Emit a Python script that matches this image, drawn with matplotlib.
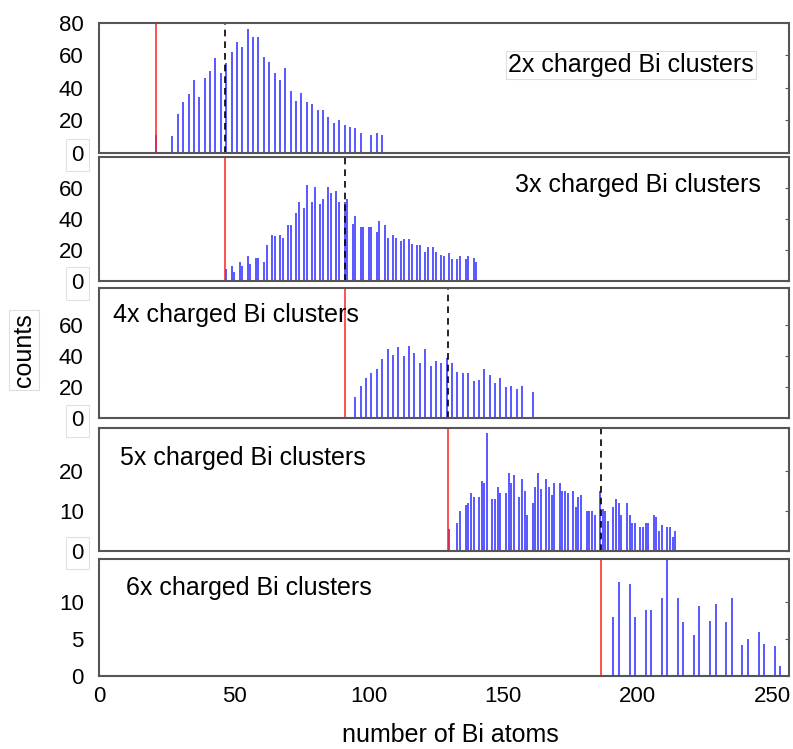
import matplotlib
matplotlib.use("Agg")
import matplotlib.pyplot as plt

plt.rcParams['font.family'] = ['Liberation Sans', 'DejaVu Sans']

# --- data: cluster size n and counts for each charge state ---
n2 = [21, 27, 29, 31, 33, 35, 37, 39, 41, 43, 45, 47, 49, 51, 53, 55, 57, 59, 61, 63,
      65, 67, 69, 71, 73, 75, 77, 79, 81, 83, 85, 87, 89, 91, 93, 95, 97, 101, 103, 105]
c2 = [11, 10, 24, 31, 36, 45, 34, 46, 50, 58, 49, 55, 62, 68, 65, 76, 71, 71, 59, 56,
      49, 45, 52, 38, 32, 37, 31, 30, 26, 26, 22, 18, 20, 17, 16, 15, 12, 11, 12, 11]

n3 = [47, 49, 50, 52, 53, 55, 56, 58, 59, 61, 62, 64, 65, 67, 68, 70, 71, 73, 74, 76,
      77, 79, 80, 82, 83, 85, 86, 88, 89, 91, 92, 94, 95, 97, 98, 100, 101, 103, 104, 106,
      107, 109, 110, 112, 113, 115, 116, 118, 119, 121, 122, 124, 125, 127, 128, 130, 131,
      133, 134, 136, 137, 139, 140]
c3 = [8, 10, 6, 12, 10, 16, 11, 15, 15, 12, 23, 30, 29, 30, 28, 36, 36, 44, 51, 47,
      62, 51, 61, 50, 53, 61, 57, 58, 51, 51, 53, 37, 42, 35, 35, 35, 35, 32, 39, 36,
      28, 30, 28, 26, 27, 27, 24, 23, 23, 19, 22, 22, 19, 17, 16, 18, 14,
      14, 16, 14, 16, 15, 12]

n4 = [95, 97, 99, 101, 103, 105, 107, 109, 111, 113, 115, 117, 119, 121, 123, 125, 127,
      129, 131, 133, 135, 137, 139, 141, 143, 145, 147, 149, 151, 153, 155, 157, 161]
c4 = [14, 21, 26, 29, 32, 38, 45, 41, 46, 40, 47, 42, 36, 45, 34, 37, 36,
      39, 36, 30, 29, 29, 24, 25, 32, 28, 23, 26, 20, 21, 19, 21, 17]

n5 = [130, 133, 134, 136, 137, 138, 139, 141, 142, 143, 144, 146, 147, 148, 149,
      151, 152, 153, 154, 156, 157, 158, 159, 161, 162, 163, 164, 166, 167, 168, 169,
      171, 172, 173, 174, 176, 177, 178, 179, 181, 182, 183, 184, 186, 187, 188, 189,
      191, 192, 193, 194, 196, 197, 198, 199, 201, 202, 203, 204, 206, 207, 208, 209,
      211, 212, 213, 214]
c5 = [5.5, 7, 10, 11.5, 12, 14.5, 13.5, 13.5, 17.5, 17, 29.5, 13, 13, 16, 14.5,
      14.5, 19.5, 17, 19, 13.5, 18, 15, 9, 12, 16, 19.5, 15.5, 18, 16, 14, 17,
      17, 15, 15, 14.5, 15, 11, 13.5, 14, 10, 10, 10, 9, 15, 10.5, 10, 7.5,
      11, 13, 12, 9, 12, 9, 7, 7, 6, 6, 7, 7, 9, 8.5, 5, 6.5,
      6, 6, 3.5, 5]

n6 = [191, 193, 197, 199, 203, 205, 209, 211, 215, 217, 221, 223, 227, 229, 233, 235,
      239, 241, 245, 247, 251, 253]
c6 = [8, 12.7, 12.5, 8, 9, 9, 10.5, 16, 10.5, 7.3, 5.5, 9.5, 7.4, 9.7, 7.3, 10.5,
      4.2, 5, 6, 4.4, 4.1, 1.4]

# red line: smallest stable size, dashed: limit of the next charge state
red_lines = [21, 46.5, 91, 129.5, 186.5]
dash_lines = [46.5, 91, 129.5, 186.5, None]

labels = ["2x charged Bi clusters", "3x charged Bi clusters", "4x charged Bi clusters",
          "5x charged Bi clusters", "6x charged Bi clusters"]
yticks = [[0, 20, 40, 60, 80], [0, 20, 40, 60], [0, 20, 40, 60], [0, 10, 20], [0, 5, 10]]
ytops = [80, 80, 84, 30.6, 15.8]

sizes = [n2, n3, n4, n5, n6]
counts = [c2, c3, c4, c5, c6]

# --- layout (pixels of a 793x749 canvas) ---
W, H = 793.0, 749.0
boxes = [(22.7, 152.7), (157.3, 281.0), (288.3, 418.3), (428.3, 550.7), (559.3, 676.0)]
left, right = 99.0, 789.0
label_pos = [(508, 65), (515, 185), (113, 315), (120, 458), (126, 588)]

fig = plt.figure(figsize=(W / 100, H / 100), dpi=100)

for i in range(5):
   top, bot = boxes[i]
   ax = fig.add_axes([left / W, 1 - bot / H, (right - left) / W, (bot - top) / H])
   ax.vlines(sizes[i], 0, counts[i], color='#2a2aff', linewidth=1.1)
   ax.axvline(red_lines[i], color='#ff2020', linewidth=1.1)
   if dash_lines[i] is not None:
      ax.axvline(dash_lines[i], color='black', linewidth=1.2, linestyle=(0, (4, 3)))
   ax.set_xlim(-0.3, 256.3)
   ax.set_ylim(0, ytops[i])
   ax.set_yticks(yticks[i])
   ax.tick_params(axis='y', labelsize=16, left=False, right=True, direction='in',
                  length=3, color='#555555', pad=11)
   ax.tick_params(axis='x', labelsize=16, length=0, pad=7)
   for sp in ax.spines.values():
      sp.set_color('#555555')
      sp.set_linewidth(1.5)
   if i < 4:
      ax.set_xticks([])
      # the pasted-in "0" labels sit in faint boxes
      ax.get_yticklabels()[0].set_bbox(dict(facecolor='white', edgecolor='#e2e2e2',
                                            linewidth=0.8, pad=4))
   else:
      ax.set_xticks([0, 50, 100, 150, 200, 250])
   lx, ly = label_pos[i]
   box = None
   if i == 0:
      box = dict(facecolor='white', edgecolor='#dddddd', linewidth=0.8, pad=1.5)
   fig.text(lx / W, 1 - ly / H, labels[i], fontsize=18, ha='left', va='center', bbox=box)

fig.text(450 / W, 1 - 735 / H, "number of Bi atoms", fontsize=18, ha='center', va='center')
fig.text(24 / W, 1 - 350 / H, "counts", fontsize=18, rotation=90, ha='center', va='center',
         bbox=dict(facecolor='white', edgecolor='#dddddd', linewidth=0.8, pad=2))

plt.savefig("out.png", dpi=100)
plt.close()
